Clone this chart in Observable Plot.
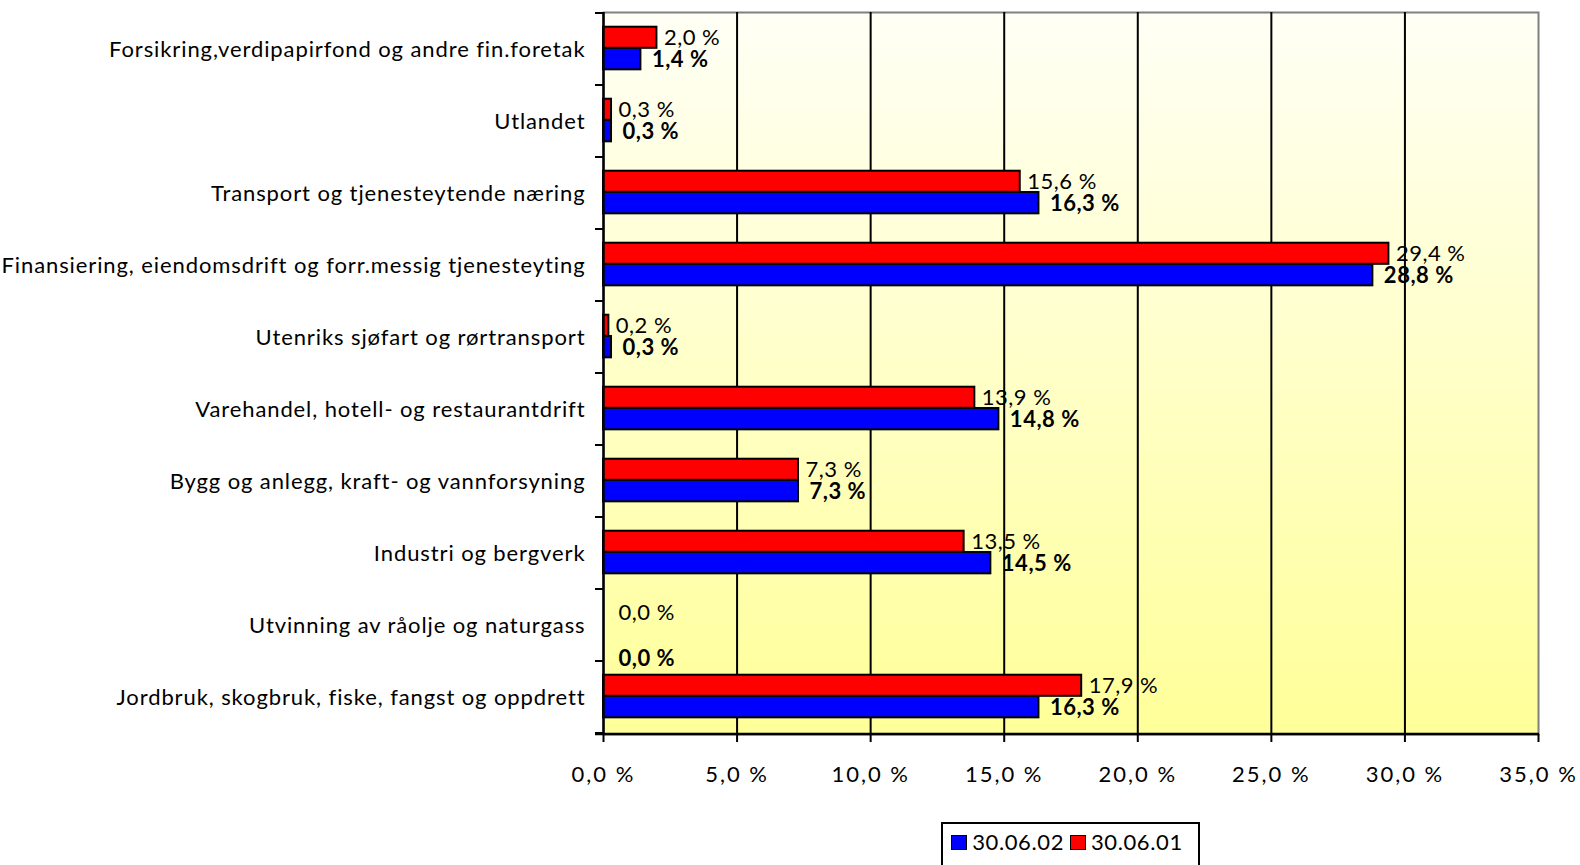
<!DOCTYPE html>
<html>
<head>
<meta charset="utf-8">
<script src="https://cdn.jsdelivr.net/npm/d3@7"></script>
<script src="https://cdn.jsdelivr.net/npm/@observablehq/plot@0.6"></script>
<style>
  html, body { margin: 0; padding: 0; background: #ffffff; overflow: hidden; }
  body { font-family: Lato, "Open Sans", sans-serif; color: #000; }
  #legendWrap { display: flex; justify-content: center; margin-top: 12px; }
  #legend { border: 2px solid #000; padding: 7px 9px 20px 8px; display: flex; align-items: center; font-size: 22px; line-height: 22px; background: #fff; letter-spacing: 0.6px; }
  .item { display: flex; align-items: center; margin-right: 6px; }
  .swatch { width: 14px; height: 13px; border: 1.5px solid #000; margin-right: 5px; }
  g[aria-label="y-axis tick label"] text { letter-spacing: 0.9px; }
  g[aria-label="x-axis tick label"] text { letter-spacing: 2px; }
  g[aria-label="text"] text { letter-spacing: 0.5px; }
</style>
</head>
<body>
<div id="chart"></div>
<script>
// ---- data ----
const categories = [
  "Forsikring,verdipapirfond og andre fin.foretak",
  "Utlandet",
  "Transport og tjenesteytende næring",
  "Finansiering, eiendomsdrift og forr.messig tjenesteyting",
  "Utenriks sjøfart og rørtransport",
  "Varehandel, hotell- og restaurantdrift",
  "Bygg og anlegg, kraft- og vannforsyning",
  "Industri og bergverk",
  "Utvinning av råolje og naturgass",
  "Jordbruk, skogbruk, fiske, fangst og oppdrett"
];
const series = ["30.06.02", "30.06.01"];
const values0602 = [1.4, 0.3, 16.3, 28.8, 0.3, 14.8, 7.3, 14.5, 0.0, 16.3];
const values0601 = [2.0, 0.3, 15.6, 29.4, 0.2, 13.9, 7.3, 13.5, 0.0, 17.9];
const xTicks = [0, 5, 10, 15, 20, 25, 30, 35];
const seriesColors = ["#0000FF", "#FF0000"];

// ---- layout ----
const W = 1580, H = 810, mL = 603, mR = 42, mT = 12, mB = 76;
const bw = (H - mT - mB) / categories.length;

const rows = categories.map((c, i) => ({category: c, v02: values0602[i], v01: values0601[i]}));
const fmt = v => d3.format(".1f")(v).replace(".", ",") + " %";

function boundaryTicks(index, scales, values, dimensions) {
  const g = d3.create("svg:g");
  const y = scales.y;
  const b = y.bandwidth();
  const edges = [...categories.map(c => y(c)), y(categories[categories.length - 1]) + b];
  g.selectAll("line.edge").data(edges).join("line")
    .attr("class", "edge")
    .attr("x1", dimensions.marginLeft - 8).attr("x2", dimensions.marginLeft)
    .attr("y1", d => d).attr("y2", d => d)
    .attr("stroke", "#000").attr("stroke-width", 2);
  const yb = dimensions.height - dimensions.marginBottom;
  g.append("line")
    .attr("x1", dimensions.marginLeft - 8).attr("x2", dimensions.width - dimensions.marginRight + 1)
    .attr("y1", yb).attr("y2", yb)
    .attr("stroke", "#000").attr("stroke-width", 2.5);
  return g.node();
}

const nonZero01 = rows.filter(d => d.v01 !== 0), zero01 = rows.filter(d => d.v01 === 0);
const nonZero02 = rows.filter(d => d.v02 !== 0), zero02 = rows.filter(d => d.v02 === 0);

const svg = Plot.plot({
  width: W, height: H,
  marginLeft: mL, marginRight: mR, marginTop: mT, marginBottom: mB,
  style: {fontFamily: "Lato, 'Open Sans', sans-serif", fontSize: "22px", color: "#000", background: "transparent", overflow: "visible"},
  x: {domain: [0, 35], ticks: xTicks, label: null},
  y: {domain: categories, padding: 0, label: null},
  marks: [
    Plot.frame({fill: "url(#bgGrad)", stroke: "#808080", strokeWidth: 2}),
    Plot.ruleX(xTicks.slice(1, -1), {stroke: "#000", strokeWidth: 2}),
    Plot.barX(rows, {x: "v01", y: "category", fill: seriesColors[1], stroke: "#000", strokeWidth: 2,
      insetTop: bw * 0.19, insetBottom: bw * (1 - 0.485)}),
    Plot.barX(rows, {x: "v02", y: "category", fill: seriesColors[0], stroke: "#000", strokeWidth: 2,
      insetTop: bw * 0.485, insetBottom: bw * (1 - 0.783)}),
    Plot.ruleX([0], {stroke: "#000", strokeWidth: 2.5}),
    Plot.text(nonZero01, {x: "v01", y: "category", text: d => fmt(d.v01), textAnchor: "start", dx: 7, dy: -12, fontSize: 22, fill: "#000"}),
    Plot.text(nonZero02, {x: "v02", y: "category", text: d => fmt(d.v02), textAnchor: "start", dx: 11, dy: 10, fontSize: 22, fontWeight: "bold", fill: "#000"}),
    Plot.text(zero01, {x: "v01", y: "category", text: d => fmt(d.v01), textAnchor: "start", dx: 15, dy: -13, fontSize: 22, fill: "#000"}),
    Plot.text(zero02, {x: "v02", y: "category", text: d => fmt(d.v02), textAnchor: "start", dx: 15, dy: 33, fontSize: 22, fontWeight: "bold", fill: "#000"}),
    Plot.axisX({ticks: xTicks, tickFormat: fmt, tickSize: 8, tickPadding: 24, stroke: "#000", strokeWidth: 2, fontSize: 22, label: null}),
    Plot.axisY({tickSize: 0, tickPadding: 18, fontSize: 22, label: null}),
    boundaryTicks
  ]
});

d3.select(svg).insert("defs", ":first-child").html(
  '<linearGradient id="bgGrad" x1="0" y1="0" x2="0" y2="1">' +
  '<stop offset="0" stop-color="#FFFFF6"/><stop offset="1" stop-color="#FFFF99"/></linearGradient>'
);
document.getElementById("chart").appendChild(svg);

// ---- legend (HTML, below the SVG) ----
const wrap = document.createElement("div");
wrap.id = "legendWrap";
wrap.style.marginLeft = mL + "px";
wrap.style.width = (W - mL - mR) + "px";
const legend = document.createElement("div");
legend.id = "legend";
series.forEach((s, i) => {
  const item = document.createElement("div");
  item.className = "item";
  const sw = document.createElement("div");
  sw.className = "swatch";
  sw.style.background = seriesColors[i];
  const label = document.createElement("span");
  label.textContent = s;
  item.appendChild(sw);
  item.appendChild(label);
  legend.appendChild(item);
});
wrap.appendChild(legend);
document.body.appendChild(wrap);
</script>
</body>
</html>
